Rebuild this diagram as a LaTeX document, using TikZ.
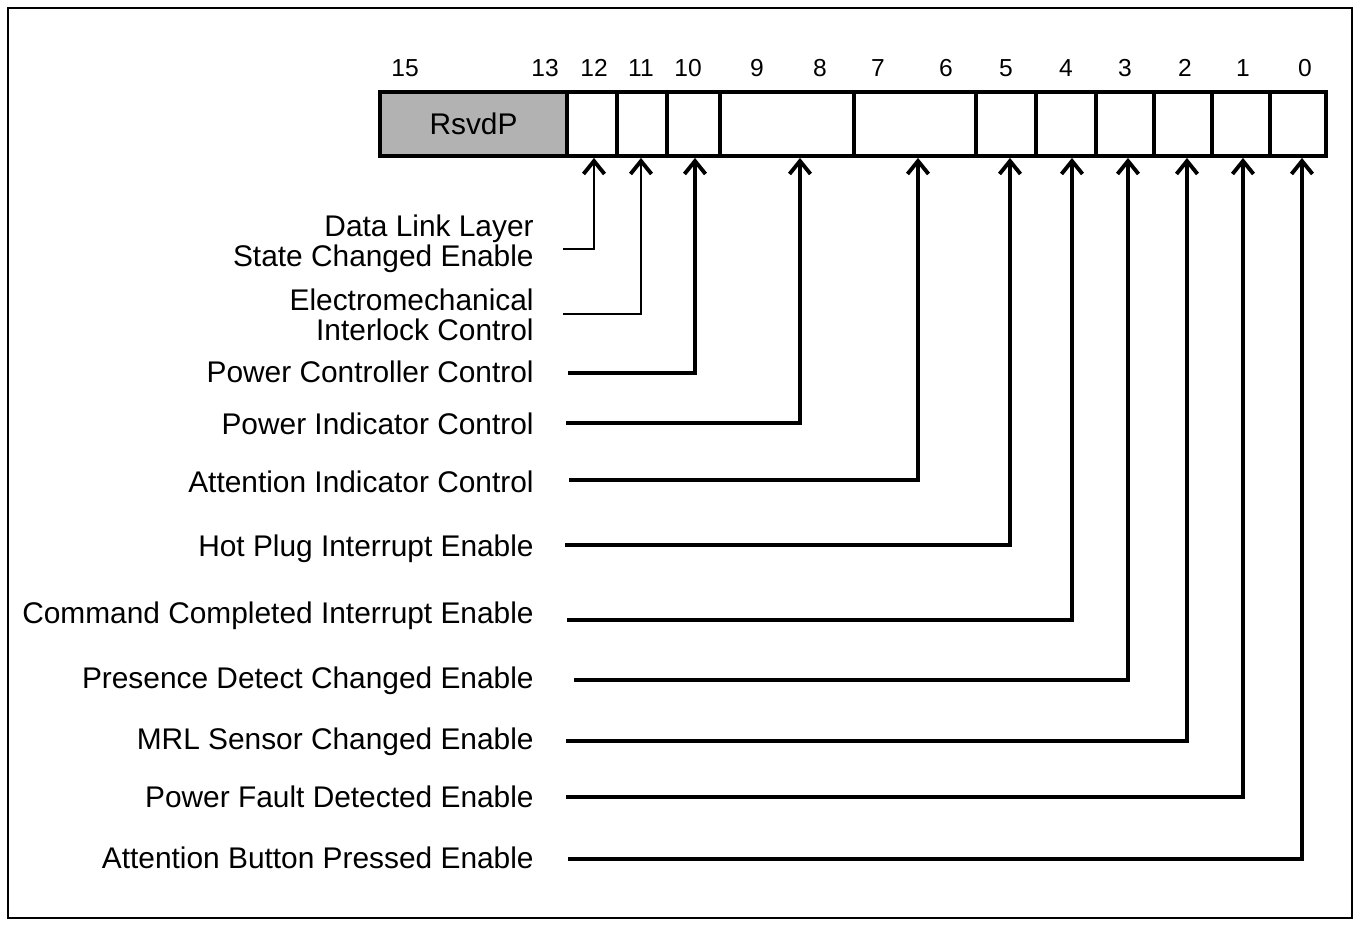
\documentclass[tikz,border=0pt]{standalone}
\usepackage{fontspec}
\setmainfont{Liberation Sans}
\usetikzlibrary{arrows.meta}
\tikzset{bit cell/.style={draw,line width=2.2pt,minimum height=1.28cm,inner sep=0pt},
  bit num/.style={font=\fontsize{14}{16}\selectfont},
  field name/.style={anchor=east,align=right,inner sep=0pt,font=\fontsize{17}{17}\selectfont},
  ptr/.style={line width=2pt,-{Straight Barb[length=0.26cm,width=0.42cm,line width=2.2pt]}} }

\begin{document}
\begin{tikzpicture}[x=0.02cm,y=-0.02cm]
\useasboundingbox (0,0) rectangle (1360,926);
\draw[line width=1.1pt] (8,8) rectangle (1352,918);

  % register cells
  \foreach \l/\r/\n in {380/567/b13,567/617/b12,617/667/b11,667/720/b10,720/854/b8,
    854/976/b6,976/1036/b5,1036/1096/b4,1096/1154/b3,1154/1212/b2,1212/1270/b1,1270/1326/b0}
    \node[bit cell,minimum width={(\r-\l)*0.02cm}] (\n) at ({(\l+\r)/2},124) {};
  \node[bit cell,fill=black!30,minimum width=3.74cm,font=\fontsize{17}{17}\selectfont] (rsvd) at (473.5,124) {RsvdP};

  % bit numbers
  \foreach \x/\t in {405/15,545/13,594/12,641/11,688/10,757/9,820/8,878/7,946/6,
    1006/5,1066/4,1125/3,1185/2,1243/1,1305/0}
    \node[bit num] (n\t) at (\x,68) {\t};

  % field names
  \node[field name] (f12) at (534,244) {Data Link Layer\\State Changed Enable};
  \node[field name] (f11) at (534,315) {Electromechanical\\Interlock Control};
  \node[field name] (f10) at (534,372) {Power Controller Control};
  \node[field name] (f8) at (534,424) {Power Indicator Control};
  \node[field name] (f6) at (534,482) {Attention Indicator Control};
  \node[field name] (f5) at (534,549) {Hot Plug Interrupt Enable};
  \node[field name] (f4) at (534,616) {Command Completed Interrupt Enable};
  \node[field name] (f3) at (534,681) {Presence Detect Changed Enable};
  \node[field name] (f2) at (534,742) {MRL Sensor Changed Enable};
  \node[field name] (f1) at (534,797) {Power Fault Detected Enable};
  \node[field name] (f0) at (534,858) {Attention Button Pressed Enable};

  % line starts
  \foreach \n/\x/\y in {12/563/249,11/563/314,10/568/373,8/566/423,6/569/480,5/565/545,
    4/567/620,3/574/680,2/566/741,1/566/797,0/568/859}
    \coordinate (s\n) at (\x,\y);

  \foreach \n/\dx/\w in {12/2/1pt,11/-1/1.6pt,10/1.5/1.8pt,8/13/2pt,6/3/2pt,5/4/2pt,
    4/6/2pt,3/3/2pt,2/4/2pt,1/2/2pt,0/4/2pt}
    \draw[ptr,line width=\w] (s\n) -| ([shift={(\dx,0)}]b\n.south);
\end{tikzpicture}
\end{document}
